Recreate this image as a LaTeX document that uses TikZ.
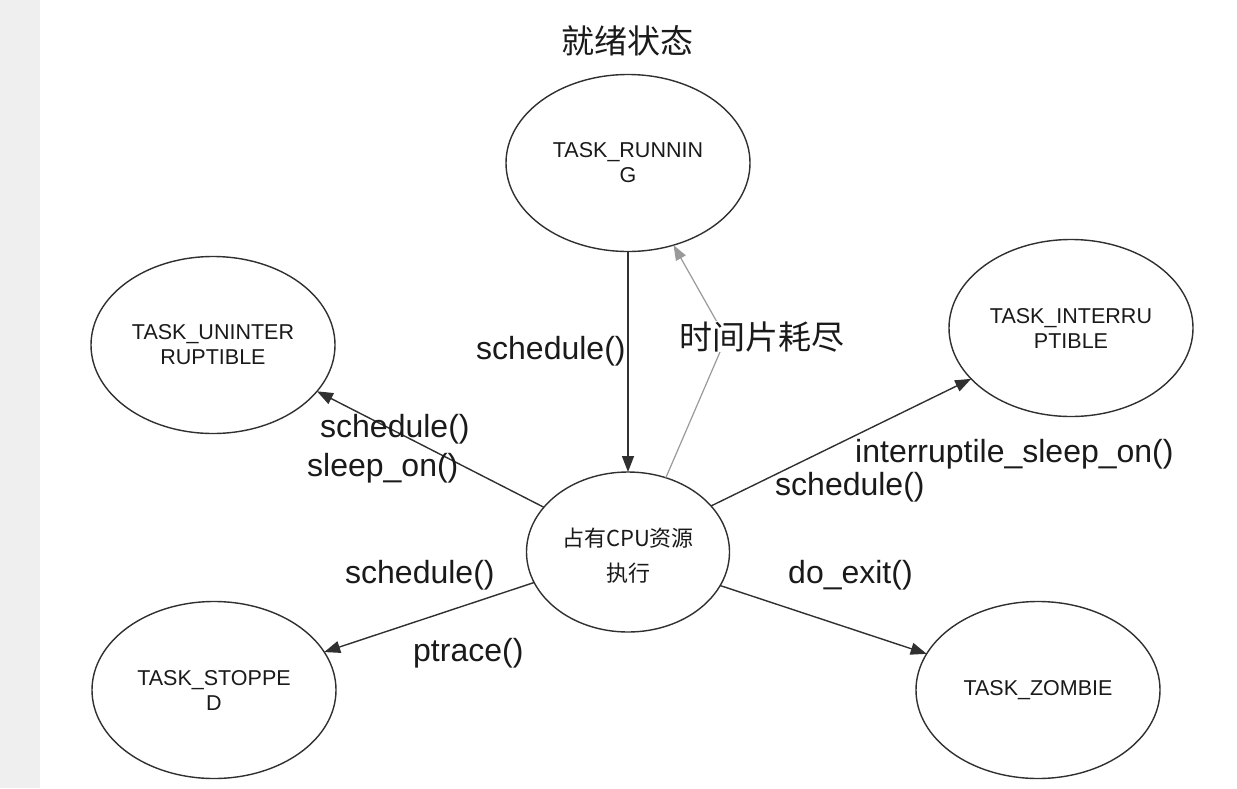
\documentclass[tikz,border=0pt]{standalone}
\usepackage{fontspec}
\setmainfont{Liberation Sans}
\newfontfamily\cjk{Noto Sans CJK SC}
\usetikzlibrary{arrows.meta,shapes.geometric}
\definecolor{linec}{HTML}{303030}
\definecolor{textc}{HTML}{1A1A1A}
\definecolor{greyc}{HTML}{9A9A9A}
\definecolor{stripc}{HTML}{EFEFEF}
\tikzset{
  state/.style={ellipse, draw=linec, line width=1.4pt, inner sep=0pt, outer sep=0pt,
    minimum width=244pt, minimum height=177pt, align=center, text=textc,
    font=\fontsize{21.5}{25}\selectfont},
  cpustate/.style={state, minimum width=203pt, minimum height=160pt},
  arr/.style={draw=linec, line width=1.4pt, -{Triangle[length=16pt,width=12pt]}},
  greyarr/.style={draw=greyc, line width=1.2pt, -{Triangle[length=15pt,width=11pt]}},
  elabel/.style={anchor=base west, inner sep=0pt, text=textc, font=\fontsize{32}{36}\selectfont},
  cjklabel/.style={anchor=base west, inner sep=0pt, text=textc, font=\cjk\fontsize{33}{36}\selectfont}
}
\begin{document}
\begin{tikzpicture}[x=1pt,y=-1pt]
\useasboundingbox (0,0) rectangle (1237,788);
\fill[white] (0,0) rectangle (1237,788);
\fill[stripc] (0,0) rectangle (40,788);

\node[cjklabel] (title) at (561,53) {就绪状态};

\node[state] (run) at (628,163) {TASK\_RUNNIN\\G};
\node[state] (unint) at (213,345) {TASK\_UNINTER\\RUPTIBLE};
\node[state] (int) at (1071,328) {TASK\_INTERRU\\PTIBLE};
\node[state] (stop) at (214,690) {TASK\_STOPPE\\D};
\node[state] (zomb) at (1038,690) {TASK\_ZOMBIE};
\node[cpustate] (cpu) at (628,552) {};
\node[inner sep=0pt, anchor=base, text=textc, font=\cjk\fontsize{22}{25}\selectfont] (cpu1) at (628,546) {占有CPU资源};
\node[inner sep=0pt, anchor=base, text=textc, font=\cjk\fontsize{22}{25}\selectfont] (cpu2) at (628,581) {执行};

\coordinate (bend) at (726,338);
\draw[arr] (run.south) -- (cpu.north);
\draw[greyarr] (cpu.63.7) -- (bend) -- (run.-61.6);
\draw[arr] (cpu.152) -- (unint.-24);
\draw[arr] (cpu.29) -- (int.-153);
\draw[arr] (cpu.198) -- (stop.19);
\draw[arr] (cpu.-20) -- (zomb.162);

\node[elabel] (l1) at (476,359) {schedule()};
\node[cjklabel, fill=white] (l2) at (679,349) {时间片耗尽};
\node[elabel] (l3) at (320,437) {schedule()};
\node[elabel] (l4) at (307,476) {sleep\_on()};
\node[elabel] (l5) at (855,462) {interruptile\_sleep\_on()};
\node[elabel] (l6) at (775,495) {schedule()};
\node[elabel] (l7) at (345,583) {schedule()};
\node[elabel] (l8) at (413,661) {ptrace()};
\node[elabel] (l9) at (788,583) {do\_exit()};
\end{tikzpicture}
\end{document}
